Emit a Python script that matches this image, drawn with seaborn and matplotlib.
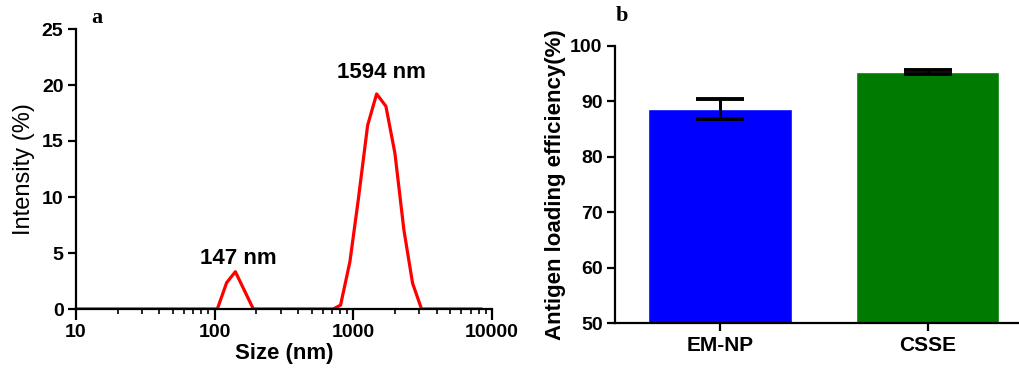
import numpy as np
import pandas as pd
import seaborn as sns
import matplotlib.pyplot as plt
from matplotlib.ticker import FixedLocator, FixedFormatter, LogLocator, NullFormatter

# DLS size distribution (panel a)
size_nm = [10, 104.5, 122, 141, 190, 716, 809, 944, 1084, 1268, 1472, 1718, 1995, 2316, 2675, 3103, 8414]
intensity = [0, 0, 2.35, 3.33, 0, 0, 0.35, 4.2, 9.7, 16.4, 19.2, 18.1, 13.9, 7.05, 2.3, 0, 0]

# antigen loading (panel b)
groups = ['EM-NP', 'CSSE']
loading = [88.6, 95.2]
loading_err = [1.8, 0.35]
bar_colors = ['#0000ff', '#007a00']

sns.set_theme(style='ticks')
plt.rcParams['font.family'] = ['Liberation Sans', 'DejaVu Sans']
plt.rcParams['font.weight'] = 'bold'
plt.rcParams['text.color'] = 'black'
plt.rcParams['axes.labelcolor'] = 'black'
plt.rcParams['xtick.color'] = 'black'
plt.rcParams['ytick.color'] = 'black'

fig = plt.figure(figsize=(10.19, 3.72), dpi=100)
W, H = 1019, 372
ax1 = fig.add_axes([76 / W, 63 / H, 416 / W, 280 / H])
ax2 = fig.add_axes([615 / W, 48.7 / H, 404 / W, 277.6 / H])

# panel a
dls = pd.DataFrame({'size': size_nm, 'intensity': intensity})
sns.lineplot(data=dls, x='size', y='intensity', ax=ax1, color='#ff0000', lw=2.3)
ax1.set_xscale('log')
ax1.set_xlim(10, 10000)
ax1.set_ylim(0, 25)
ax1.set_yticks([0, 5, 10, 15, 20, 25])
ax1.xaxis.set_major_locator(FixedLocator([10, 100, 1000, 10000]))
ax1.xaxis.set_major_formatter(FixedFormatter(['10', '100', '1000', '10000']))
ax1.xaxis.set_minor_locator(LogLocator(base=10, subs=np.arange(2, 10)))
ax1.xaxis.set_minor_formatter(NullFormatter())
ax1.set_xlabel('Size (nm)', fontsize=16, fontweight='bold', labelpad=1)
ax1.set_ylabel('Intensity (%)', fontsize=17, fontweight='normal', labelpad=5)
ax1.text(1594, 20.2, '1594 nm', ha='center', va='bottom', fontsize=16, fontweight='bold')
ax1.text(147, 3.6, '147 nm', ha='center', va='bottom', fontsize=16, fontweight='bold')
ax1.text(91 / W, 1 - 18 / H, 'a', transform=fig.transFigure, family='Liberation Serif',
         fontsize=16, fontweight='bold', ha='left', va='center')
sns.despine(ax=ax1)

# panel b
load = pd.DataFrame({'group': groups, 'loading': loading})
sns.barplot(data=load, x='group', y='loading', hue='group', palette=bar_colors,
            width=0.69, ax=ax2, legend=False, saturation=1, errorbar=None)
ax2.errorbar([0, 1], loading, yerr=loading_err, fmt='none', ecolor='black',
             elinewidth=2.2, capsize=17, capthick=2.8)
ax2.set_ylim(50, 100)
ax2.set_xlim(-0.505, 1.44)
ax2.set_yticks([50, 60, 70, 80, 90, 100])
ax2.set_xlabel('')
ax2.set_ylabel('Antigen loading efficiency(%)', fontsize=16, fontweight='bold', labelpad=3)
ax2.text(616 / W, 1 - 16 / H, 'b', transform=fig.transFigure, family='Liberation Serif',
         fontsize=16, fontweight='bold', ha='left', va='center')
sns.despine(ax=ax2)

for ax in (ax1, ax2):
    for s in ('left', 'bottom'):
        ax.spines[s].set_linewidth(1.6)
        ax.spines[s].set_color('black')
    ax.tick_params(which='major', length=6, width=1.6, color='black',
                   labelsize=14, pad=3)
    ax.tick_params(which='minor', length=3.5, width=1.2, color='black')
ax1.tick_params(axis='x', which='major', length=8)
ax2.tick_params(axis='x', labelsize=15)
for ax in (ax1, ax2):
    for lab in ax.get_xticklabels() + ax.get_yticklabels():
        lab.set_fontweight('bold')

fig.savefig('out.png', dpi=100)
